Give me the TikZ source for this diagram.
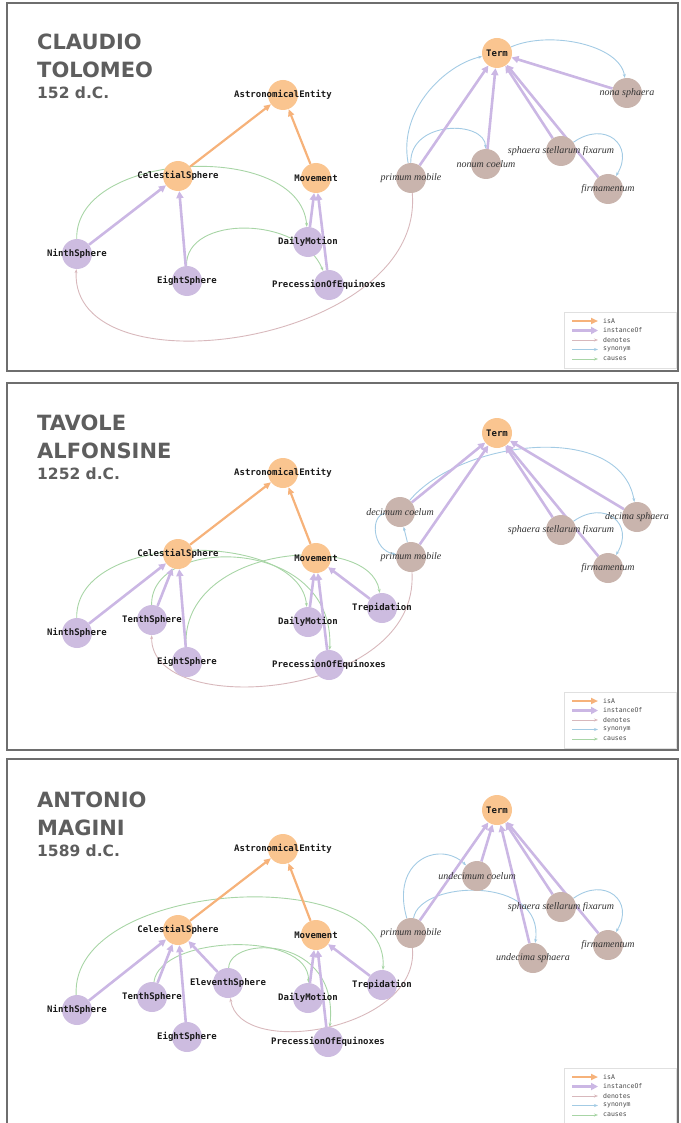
\documentclass[tikz,border=0pt]{standalone}
\usepackage{fontspec}
\usepackage{tikz}
\usetikzlibrary{arrows.meta}

\newfontfamily\titlefont{DejaVu Sans}
\newfontfamily\classfont{DejaVu Sans Mono}
\newfontfamily\termfont{Liberation Serif}

\definecolor{isacol}{HTML}{F6B27A}
\definecolor{clsfill}{HTML}{FAC590}
\definecolor{instcol}{HTML}{CBB7E4}
\definecolor{instfill}{HTML}{CDBCE0}
\definecolor{termfill}{HTML}{C9B4AD}
\definecolor{dencol}{HTML}{D8B8BC}
\definecolor{syncol}{HTML}{A3CBE4}
\definecolor{caucol}{HTML}{A8D5A6}
\definecolor{titlegray}{HTML}{5E5E5E}
\definecolor{framegray}{HTML}{6E6E6E}

\pgfdeclarelayer{edges}
\pgfsetlayers{edges,main}

\begin{document}
\begin{tikzpicture}[x=1pt, y=-1pt,
  cls/.style={circle, fill=clsfill, minimum size=30pt, inner sep=0pt,
    label={[text=black!90]center:{\classfont\bfseries\fontsize{9}{9}\selectfont #1}}},
  inst/.style={circle, fill=instfill, minimum size=30pt, inner sep=0pt,
    label={[text=black!90]center:{\classfont\bfseries\fontsize{9}{9}\selectfont #1}}},
  trm/.style={circle, fill=termfill, minimum size=30pt, inner sep=0pt,
    label={[text=black!80]center:{\termfont\itshape\fontsize{10}{10}\selectfont #1}}},
  isa/.style={draw=isacol, line width=2.2pt, -{Triangle[length=7pt,width=6pt]}},
  ins/.style={draw=instcol, line width=2.6pt, -{Triangle[length=7pt,width=7pt]}},
  den/.style={draw=dencol, line width=0.9pt, -{Stealth[length=4pt,width=3pt]}},
  syn/.style={draw=syncol, line width=0.9pt, -{Stealth[length=4pt,width=3pt]}},
  cau/.style={draw=caucol, line width=0.9pt, -{Stealth[length=4pt,width=3pt]}},
  frame/.style={draw=framegray, line width=1.6pt},
  ttl/.style={font=\titlefont\bfseries\fontsize{21}{21}\selectfont, text=titlegray, anchor=base west, inner sep=0pt},
  yr/.style={font=\titlefont\bfseries\fontsize{15.5}{15.5}\selectfont, text=titlegray, anchor=base west, inner sep=0pt},
  legtxt/.style={font=\classfont\fontsize{6.5}{6.5}\selectfont, text=black!70, anchor=west, inner sep=0pt}]

\useasboundingbox (0,0) rectangle (680,1123);

%% frames
\draw[frame] (7,3) rectangle (678,371);
\draw[frame] (7,383) rectangle (678,750);
\draw[frame] (7,759) rectangle (678,1135);

%% titles
\node[ttl] (t1a) at (37,50) {CLAUDIO};
\node[ttl] (t1b) at (37,78) {TOLOMEO};
\node[yr] (t1c) at (37,99) {152 d.C.};
\node[ttl] (t2a) at (37,430) {TAVOLE};
\node[ttl] (t2b) at (37,458) {ALFONSINE};
\node[yr] (t2c) at (37,479) {1252 d.C.};
\node[ttl] (t3a) at (37,807) {ANTONIO};
\node[ttl] (t3b) at (37,835) {MAGINI};
\node[yr] (t3c) at (37,856) {1589 d.C.};

%% vertices, panel 1
\node[cls=AstronomicalEntity] (ae1) at (283,95) {};
\node[cls=CelestialSphere] (cs1) at (178,176) {};
\node[cls=Movement] (mv1) at (316,178) {};
\node[inst=NinthSphere] (ninth1) at (77,254) {};
\node[inst=EightSphere] (eighth1) at (187,281) {};
\node[inst=DailyMotion] (daily1) at (308,242) {};
\node[inst=PrecessionOfEquinoxes] (prec1) at (329,285) {};
\node[cls=Term] (term1) at (497,53) {};
\node[trm=nona sphaera] (nona1) at (627,93) {};
\node[trm=primum mobile] (primum1) at (411,178) {};
\node[trm=nonum coelum] (nonum1) at (486,164) {};
\node[trm=sphaera stellarum fixarum] (fix1) at (561,151) {};
\node[trm=firmamentum] (firm1) at (608,189) {};

%% vertices, panel 2
\node[cls=AstronomicalEntity] (ae2) at (283,473) {};
\node[cls=CelestialSphere] (cs2) at (178,554) {};
\node[cls=Movement] (mv2) at (316,558) {};
\node[inst=NinthSphere] (ninth2) at (77,633) {};
\node[inst=TenthSphere] (tenth2) at (152,620) {};
\node[inst=EightSphere] (eighth2) at (187,662) {};
\node[inst=DailyMotion] (daily2) at (308,622) {};
\node[inst=PrecessionOfEquinoxes] (prec2) at (329,665) {};
\node[inst=Trepidation] (trep2) at (382,608) {};
\node[cls=Term] (term2) at (497,433) {};
\node[trm=decimum coelum] (decimum2) at (400,512) {};
\node[trm=primum mobile] (primum2) at (411,557) {};
\node[trm=sphaera stellarum fixarum] (fix2) at (561,530) {};
\node[trm=decima sphaera] (decima2) at (637,517) {};
\node[trm=firmamentum] (firm2) at (608,568) {};

%% vertices, panel 3
\node[cls=AstronomicalEntity] (ae3) at (283,849) {};
\node[cls=CelestialSphere] (cs3) at (178,930) {};
\node[cls=Movement] (mv3) at (316,935) {};
\node[inst=NinthSphere] (ninth3) at (77,1010) {};
\node[inst=TenthSphere] (tenth3) at (152,997) {};
\node[inst=EightSphere] (eighth3) at (187,1037) {};
\node[inst=EleventhSphere] (eleventh3) at (228,983) {};
\node[inst=DailyMotion] (daily3) at (308,998) {};
\node[inst=PrecessionOfEquinoxes] (prec3) at (328,1042) {};
\node[inst=Trepidation] (trep3) at (382,985) {};
\node[cls=Term] (term3) at (497,810) {};
\node[trm=undecimum coelum] (undecimum3) at (477,876) {};
\node[trm=primum mobile] (primum3) at (411,933) {};
\node[trm=undecima sphaera] (undecima3) at (533,958) {};
\node[trm=sphaera stellarum fixarum] (fix3) at (561,907) {};
\node[trm=firmamentum] (firm3) at (608,945) {};

\begin{pgfonlayer}{edges}
%%% edges, panel 1
\draw[cau] (ninth1) .. controls (75,150) and (300,140) .. (daily1);
\draw[cau] (eighth1) .. controls (185,215) and (300,215) .. (prec1);
\draw[den] (primum1) .. controls (425,345) and (70,395) .. (ninth1);
\draw[syn] (term1) .. controls (550,30) and (620,45) .. (nona1);
\draw[syn] (primum1) .. controls (398,110) and (445,65) .. (term1);
\draw[syn] (primum1) .. controls (410,120) and (485,120) .. (nonum1);
\draw[syn] (fix1) .. controls (605,120) and (635,145) .. (firm1);
\draw[isa] (cs1) -- (ae1);
\draw[isa] (mv1) -- (ae1);
\draw[ins] (ninth1) -- (cs1);
\draw[ins] (eighth1) -- (cs1);
\draw[ins] (daily1) -- (mv1);
\draw[ins] (prec1) -- (mv1);
\draw[ins] (primum1) -- (term1);
\draw[ins] (nonum1) -- (term1);
\draw[ins] (fix1) -- (term1);
\draw[ins] (firm1) -- (term1);
\draw[ins] (nona1) -- (term1);

%%% edges, panel 2
\draw[cau] (ninth2) .. controls (75,530) and (300,530) .. (daily2);
\draw[cau] (tenth2) .. controls (150,535) and (335,535) .. (prec2);
\draw[cau] (eighth2) .. controls (180,545) and (370,530) .. (trep2);
\draw[den] (primum2) .. controls (420,700) and (150,720) .. (tenth2);
\draw[syn] (decimum2) .. controls (370,515) and (372,550) .. (primum2);
\draw[syn] (primum2) -- (decimum2);
\draw[syn] (decimum2) .. controls (460,440) and (620,420) .. (decima2);
\draw[syn] (fix2) .. controls (605,499) and (635,524) .. (firm2);
\draw[isa] (cs2) -- (ae2);
\draw[isa] (mv2) -- (ae2);
\draw[ins] (ninth2) -- (cs2);
\draw[ins] (tenth2) -- (cs2);
\draw[ins] (eighth2) -- (cs2);
\draw[ins] (daily2) -- (mv2);
\draw[ins] (prec2) -- (mv2);
\draw[ins] (trep2) -- (mv2);
\draw[ins] (decimum2) -- (term2);
\draw[ins] (primum2) -- (term2);
\draw[ins] (fix2) -- (term2);
\draw[ins] (firm2) -- (term2);
\draw[ins] (decima2) -- (term2);

%%% edges, panel 3
\draw[cau] (ninth3) .. controls (70,880) and (390,860) .. (trep3);
\draw[cau] (tenth3) .. controls (160,935) and (310,930) .. (daily3);
\draw[cau] (eleventh3) .. controls (230,935) and (340,935) .. (prec3);
\draw[den] (primum3) .. controls (420,1030) and (240,1060) .. (eleventh3);
\draw[syn] (primum3) .. controls (390,860) and (440,840) .. (undecimum3);
\draw[syn] (primum3) .. controls (420,880) and (545,875) .. (undecima3);
\draw[syn] (fix3) .. controls (605,876) and (635,901) .. (firm3);
\draw[isa] (cs3) -- (ae3);
\draw[isa] (mv3) -- (ae3);
\draw[ins] (ninth3) -- (cs3);
\draw[ins] (tenth3) -- (cs3);
\draw[ins] (eighth3) -- (cs3);
\draw[ins] (eleventh3) -- (cs3);
\draw[ins] (daily3) -- (mv3);
\draw[ins] (prec3) -- (mv3);
\draw[ins] (trep3) -- (mv3);
\draw[ins] (undecimum3) -- (term3);
\draw[ins] (primum3) -- (term3);
\draw[ins] (undecima3) -- (term3);
\draw[ins] (fix3) -- (term3);
\draw[ins] (firm3) -- (term3);
\end{pgfonlayer}

%% legends
\foreach \p/\oy in {1/0,2/380,3/756}{
  \draw[draw=black!12, fill=white] (564,312+\oy) rectangle (676,368+\oy);
  \foreach \st/\txt [count=\i] in {isa/isA,ins/instanceOf,den/denotes,syn/synonym,cau/causes}{
    \draw[\st] (572,311.5+9.5*\i+\oy) -- (598,311.5+9.5*\i+\oy);
    \node[legtxt] (leg\p-\i) at (603,311.5+9.5*\i+\oy) {\txt};
  }
}

\end{tikzpicture}
\end{document}
